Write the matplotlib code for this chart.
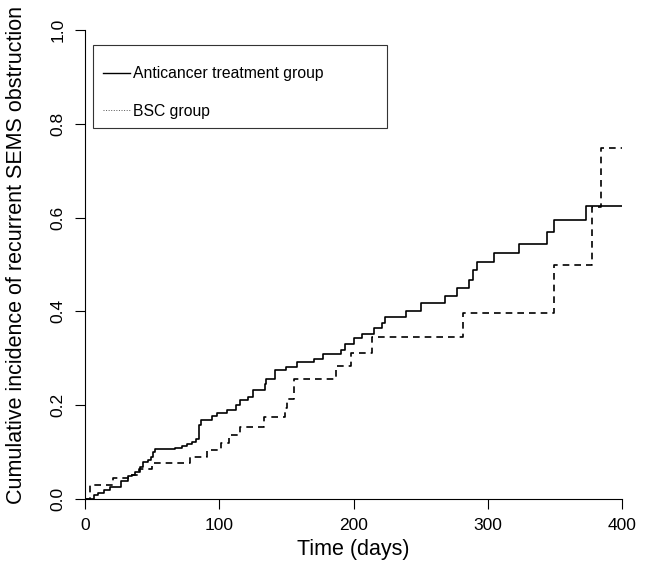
import matplotlib.pyplot as plt
from matplotlib.lines import Line2D
from matplotlib.patches import Rectangle
import numpy as np

plt.rcParams['font.family'] = ['Liberation Sans', 'DejaVu Sans']

# cumulative incidence, anticancer treatment group (time of step, value after step)
treat_days = [0, 7, 10, 14, 18.6, 27, 32, 35, 37, 41, 43, 47, 49, 51, 52, 67, 72, 76, 80, 83,
              85, 86.5, 94.5, 98.5, 105.5, 112.5, 115.5, 121.7, 125.4, 134, 135, 141.5, 149.7,
              158.2, 170.8, 177, 190.5, 194, 200, 206.3, 215.5, 221, 223.4, 239, 250, 268.3,
              277, 285.7, 289, 292, 304.6, 323, 344, 349.7, 373.2, 400]
treat_inc = [0, 0.009, 0.0135, 0.019, 0.026, 0.038, 0.049, 0.052, 0.057, 0.068, 0.078, 0.083,
             0.089, 0.100, 0.106, 0.109, 0.113, 0.117, 0.121, 0.128, 0.158, 0.168, 0.176, 0.183,
             0.190, 0.200, 0.211, 0.218, 0.232, 0.245, 0.255, 0.274, 0.282, 0.293, 0.298, 0.309,
             0.318, 0.330, 0.343, 0.352, 0.364, 0.375, 0.387, 0.401, 0.417, 0.433, 0.449, 0.467,
             0.488, 0.506, 0.525, 0.543, 0.570, 0.595, 0.625, 0.625]

# cumulative incidence, BSC group
bsc_days = [0, 4, 21, 33.5, 40.5, 49.7, 78, 91, 101, 107.5, 115.5, 133.5, 149, 150.7, 156,
            186.7, 198, 213.5, 281.8, 349.4, 377.6, 384.4, 400]
bsc_inc = [0, 0.030, 0.044, 0.051, 0.065, 0.076, 0.089, 0.104, 0.120, 0.136, 0.153, 0.174,
           0.195, 0.214, 0.256, 0.284, 0.311, 0.345, 0.397, 0.498, 0.623, 0.748, 0.748]

labels = ['Anticancer treatment group', 'BSC group']

fig = plt.figure(figsize=(6.49, 5.67), dpi=100)
ax = fig.add_axes([85 / 649, 68 / 567, 537 / 649, 469 / 567])

ax.step(treat_days, treat_inc, where='post', color='black', lw=1.2)
ax.step(bsc_days, bsc_inc, where='post', color='black', lw=1.2, dashes=(4, 3))

ax.set_xlim(0, 400)
ax.set_ylim(0, 1)
ax.set_xticks(np.arange(0, 401, 100))
ax.set_yticks(np.arange(0, 1.01, 0.2))
ax.set_yticklabels([f'{v:.1f}' for v in np.arange(0, 1.01, 0.2)], rotation=90, va='center')
ax.tick_params(length=7, width=0.8, labelsize=12.5, pad=7)
ax.spines[['top', 'right']].set_visible(False)
for s in ['left', 'bottom']:
    ax.spines[s].set_linewidth(0.8)

ax.set_xlabel('Time (days)', fontsize=15.5, labelpad=4)
ax.set_ylabel('Cumulative incidence of recurrent SEMS obstruction', fontsize=15.5)
ax.yaxis.set_label_coords(-0.108, 0.52)

# legend box
ax.add_patch(Rectangle((0.0149, 0.791), 0.547, 0.177, transform=ax.transAxes,
                       fill=False, lw=0.8, edgecolor='#333333'))
handles = [Line2D([], [], color='black', lw=1.0),
           Line2D([], [], color='#555555', lw=0.7, ls=':')]
ax.legend(handles, labels, loc='upper left', bbox_to_anchor=(0.0335, 0.9226),
          frameon=False, borderpad=0, borderaxespad=0, fontsize=11.3,
          handlelength=1.75, handletextpad=0.15, labelspacing=1.43)

fig.savefig('out.png', dpi=100)
